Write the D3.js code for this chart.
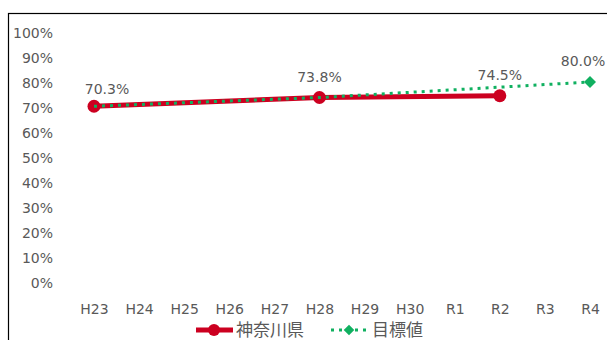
<!DOCTYPE html>
<html>
<head>
<meta charset="utf-8">
<script src="https://cdn.jsdelivr.net/npm/d3@7"></script>
<style>
  html, body { margin: 0; padding: 0; background: #fff; }
  svg { display: block; }
  text { font-family: "DejaVu Sans", sans-serif; fill: #595959; }
</style>
</head>
<body>
<svg id="chart" width="607" height="340"></svg>
<script>
// Fiscal years on the x axis
const categories = ["H23", "H24", "H25", "H26", "H27", "H28", "H29", "H30", "R1", "R2", "R3", "R4"];
// 神奈川県 actual values (%), null where no survey
const prefValues = [70.3, null, null, null, null, 73.8, null, null, null, 74.5, null, null];
// 目標値 target values (%)
const targetValues = [70.3, null, null, null, null, 73.8, null, null, null, null, null, 80.0];
// y axis ticks
const yTicks = [0, 10, 20, 30, 40, 50, 60, 70, 80, 90, 100];
// data labels: [category index, value]
const labelPoints = [[0, 70.3], [5, 73.8], [9, 74.5], [11, 80.0]];

const seriesNames = ["神奈川県", "目標値"];
const red = "#CC0020";
const green = "#10B060";
const axisFont = "'DejaVu Sans', sans-serif";

const svg = d3.select("#chart");

// outer frame
svg.append("rect")
  .attr("x", 8.5).attr("y", 13.5)
  .attr("width", 640).attr("height", 360)
  .attr("fill", "none").attr("stroke", "#000").attr("stroke-width", 1.2);

const x = d3.scalePoint().domain(categories).range([94, 590]);
const y = d3.scaleLinear().domain([0, 100]).range([282, 32]);

// y axis labels
const yAxis = d3.axisLeft(y).tickValues(yTicks).tickFormat(d => d + "%").tickSize(0).tickPadding(0);
const gy = svg.append("g").attr("transform", "translate(53,1)").call(yAxis);
gy.select(".domain").remove();
gy.selectAll("text").attr("font-size", 14).style("font-family", axisFont).attr("fill", "#595959");

// x axis labels
const xAxis = d3.axisBottom(x).tickSize(0).tickPadding(0);
const gx = svg.append("g").attr("transform", "translate(0,309)").call(xAxis);
gx.select(".domain").remove();
gx.selectAll("text").attr("font-size", 14).attr("dy", "0.35em").style("font-family", axisFont).attr("fill", "#595959");

function pts(vals) {
  return categories.map((c, i) => [c, vals[i]]).filter(d => d[1] !== null);
}
const line = d3.line().x(d => x(d[0])).y(d => y(d[1]));

// actual series
svg.append("path").datum(pts(prefValues))
  .attr("d", line).attr("fill", "none").attr("stroke", red).attr("stroke-width", 5);
svg.selectAll("circle.pref").data(pts(prefValues)).join("circle")
  .attr("class", "pref")
  .attr("cx", d => x(d[0])).attr("cy", d => y(d[1])).attr("r", 6.5)
  .attr("fill", red);

// target series (dotted)
svg.append("path").datum(pts(targetValues))
  .attr("d", line).attr("fill", "none").attr("stroke", green)
  .attr("stroke-width", 3).attr("stroke-dasharray", "3 5");
const diamond = d3.symbol().type(d3.symbolSquare).size(72);
const lastTarget = pts(targetValues).slice(-1);
svg.selectAll("path.tgt").data(lastTarget).join("path")
  .attr("class", "tgt")
  .attr("d", diamond)
  .attr("transform", d => `translate(${x(d[0])},${y(d[1])}) rotate(45)`)
  .attr("fill", green);

// data labels
svg.selectAll("text.lbl").data(labelPoints).join("text")
  .attr("class", "lbl")
  .attr("x", d => x(categories[d[0]]) + (d[0] === 0 ? 13 : d[0] === 11 ? -7 : 0))
  .attr("y", d => y(d[1]) - (d[0] === 0 ? 12 : 16))
  .attr("text-anchor", "middle")
  .attr("font-size", 14)
  .style("font-family", axisFont)
  .text(d => d[1].toFixed(1) + "%");

// legend
const lg = svg.append("g").attr("transform", "translate(0,330)");
lg.append("line").attr("x1", 196).attr("x2", 233).attr("y1", 0).attr("y2", 0)
  .attr("stroke", red).attr("stroke-width", 5);
lg.append("circle").attr("cx", 214).attr("cy", 0).attr("r", 6).attr("fill", red);
lg.append("text").attr("x", 236).attr("y", 0).attr("dy", "0.36em")
  .attr("font-size", 17).style("font-family", "'Noto Sans CJK JP', sans-serif").text(seriesNames[0]);
lg.append("line").attr("x1", 331).attr("x2", 367).attr("y1", 0).attr("y2", 0)
  .attr("stroke", green).attr("stroke-width", 3).attr("stroke-dasharray", "3 5");
lg.append("path").attr("d", d3.symbol().type(d3.symbolSquare).size(56)())
  .attr("transform", "translate(349,0) rotate(45)").attr("fill", green);
lg.append("text").attr("x", 372).attr("y", 0).attr("dy", "0.36em")
  .attr("font-size", 17).style("font-family", "'Noto Sans CJK JP', sans-serif").text(seriesNames[1]);
</script>
</body>
</html>
